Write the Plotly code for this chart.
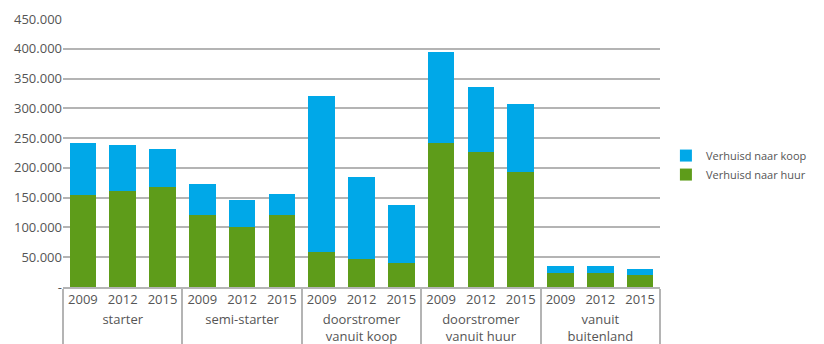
import plotly.graph_objects as go

groups = ["starter", "semi-starter", "doorstromer<br>vanuit koop", "doorstromer<br>vanuit huur", "vanuit<br>buitenland"]
years = ["2009", "2012", "2015"]

huur = [155000, 162000, 168000,
        121000, 101000, 121000,
        59000, 47000, 40000,
        242000, 226000, 193000,
        24000, 24000, 20000]
totaal = [242000, 239000, 232000,
          173000, 146000, 157000,
          320000, 185000, 138000,
          394000, 335000, 308000,
          35000, 35000, 30000]
koop = [t - h for t, h in zip(totaal, huur)]

ytickvals = [0, 50000, 100000, 150000, 200000, 250000, 300000, 350000, 400000, 450000]
yticktext = ["-", "50.000", "100.000", "150.000", "200.000", "250.000", "300.000", "350.000", "400.000", "450.000"]

xg = [g for g in groups for _ in years]
xy = [y for _ in groups for y in years]

fig = go.Figure()
fig.add_trace(go.Bar(x=[xg, xy], y=huur, name="Verhuisd naar huur", marker_color="#5E9C1A", marker_line_width=0))
fig.add_trace(go.Bar(x=[xg, xy], y=koop, name="Verhuisd naar koop", marker_color="#00A8E8", marker_line_width=0))

fig.update_layout(
    width=824, height=344,
    barmode="stack", bargap=0.33,
    plot_bgcolor="white", paper_bgcolor="white",
    margin=dict(l=63, r=164, t=19, b=57),
    font=dict(family="Open Sans", size=13, color="#555555"),
    legend=dict(traceorder="reversed", x=1.03, y=0.455, yanchor="middle", xanchor="left",
                font=dict(size=11, color="#555555"), itemwidth=30, tracegroupgap=0,
                indentation=-12),
    showlegend=True,
)
fig.update_yaxes(range=[0, 450000], tickvals=ytickvals, ticktext=yticktext,
                 showgrid=True, gridcolor="#b4b4b4", gridwidth=1.5,
                 zeroline=False, showline=False, ticks="", ticklen=0, automargin=False)
fig.update_xaxes(type="multicategory", showline=True, linecolor="#b4b4b4", linewidth=1.5,
                 showdividers=True, dividercolor="#b4b4b4", dividerwidth=1.5,
                 ticks="", tickfont=dict(size=13, color="#555555"), showgrid=False,
                 automargin=False)

fig.write_html("out.html")
